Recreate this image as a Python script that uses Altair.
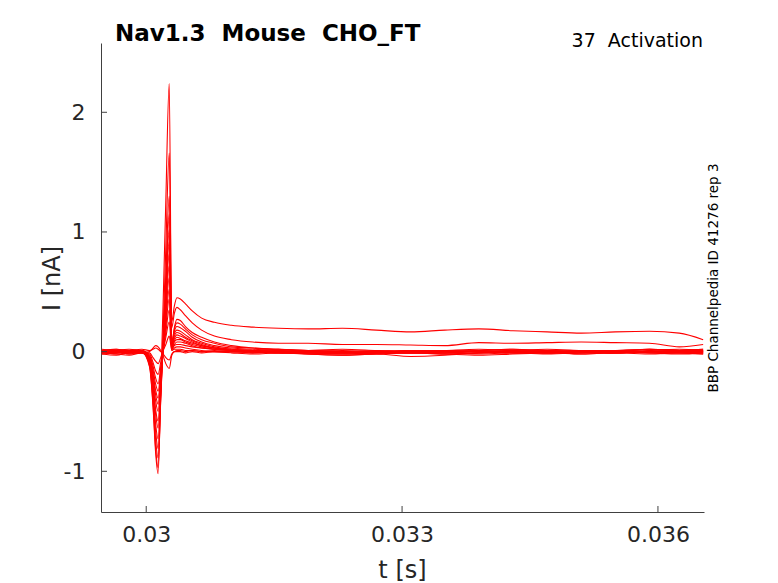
import altair as alt
import pandas as pd

# time grid of the sweeps [s]
T = [0.02948, 0.02965, 0.02980, 0.02995,
     0.03004, 0.03008, 0.03011, 0.03014,
     0.03017, 0.03020, 0.03023, 0.03027,
     0.03030, 0.03033, 0.03036, 0.03040, 0.03046, 0.03054, 0.03065, 0.03080, 0.03100,
     0.03125, 0.03155, 0.03190, 0.03230, 0.03270, 0.03310, 0.03350, 0.03390, 0.03430,
     0.03470, 0.03510, 0.03550, 0.03590, 0.03625, 0.03653]

# current traces [nA], one per sweep
TR_A = [0.01, 0.02, 0.00, 0.01,
        -0.12, -0.44, -0.80, -0.97,
        -0.39, 0.21, 0.87, 1.66,
        0.25, 0.38, 0.45, 0.44, 0.40, 0.34, 0.28, 0.245, 0.22,
        0.205, 0.195, 0.19, 0.195, 0.18, 0.165, 0.18, 0.19, 0.175, 0.165, 0.155, 0.165, 0.17, 0.155, 0.10]
TR_B = [-0.01, 0.01, 0.02, 0.00,
        -0.11, -0.40, -0.73, -0.89,
        -0.41, 0.10, 0.64, 1.30,
        0.20, 0.32, 0.37, 0.35, 0.30, 0.24, 0.18, 0.13, 0.10,
        0.08, 0.07, 0.07, 0.06, 0.06, 0.055, 0.05, 0.075, 0.07, 0.075, 0.08, 0.075, 0.07, 0.04, 0.06]
TR_C = [0.00, -0.01, 0.01, 0.00,
        -0.13, -0.46, -0.84, -1.02,
        -0.30, 0.45, 1.26, 2.24,
        0.05, 0.20, 0.27, 0.26, 0.21, 0.16, 0.12, 0.08, 0.05,
        0.03, 0.02, 0.01, 0.00, 0.01, -0.01, 0.00, 0.01, 0.02, 0.00, 0.01, 0.00, 0.02, 0.01, 0.00]
TR_D = [0.01, 0.00, -0.01, 0.01,
        -0.10, -0.36, -0.66, -0.81,
        -0.38, 0.07, 0.56, 1.15,
        0.08, 0.19, 0.24, 0.23, 0.19, 0.14, 0.10, 0.07, 0.04,
        0.03, 0.02, 0.00, -0.01, 0.00, 0.01, -0.02, -0.01, 0.00, 0.01, 0.00, -0.01, 0.01, 0.02, 0.01]
TR_E = [-0.02, -0.01, 0.00, -0.01,
        -0.09, -0.33, -0.60, -0.73,
        -0.35, 0.06, 0.50, 1.02,
        0.07, 0.17, 0.21, 0.20, 0.17, 0.12, 0.08, 0.05, 0.03,
        0.02, 0.01, -0.01, -0.02, -0.01, 0.00, -0.01, 0.01, 0.00, -0.01, 0.01, 0.00, 0.00, 0.01, 0.02]
TR_F = [0.02, 0.01, 0.01, 0.00,
        -0.08, -0.29, -0.52, -0.64,
        -0.30, 0.06, 0.45, 0.92,
        0.06, 0.15, 0.18, 0.17, 0.14, 0.10, 0.07, 0.04, 0.02,
        0.01, 0.00, -0.02, -0.03, -0.02, -0.04, -0.03, -0.01, 0.00, -0.01, 0.00, 0.01, 0.00, -0.01, 0.00]
TR_G = [0.00, -0.02, -0.01, 0.00,
        -0.07, -0.26, -0.48, -0.58,
        -0.27, 0.05, 0.40, 0.82,
        0.05, 0.13, 0.16, 0.15, 0.12, 0.09, 0.06, 0.03, 0.01,
        0.00, -0.01, 0.00, 0.01, 0.00, -0.01, 0.00, -0.02, -0.01, 0.00, -0.02, -0.01, 0.00, 0.00, -0.01]
TR_H = [-0.01, 0.00, 0.01, -0.01,
        -0.06, -0.23, -0.41, -0.50,
        -0.23, 0.05, 0.35, 0.72,
        0.04, 0.11, 0.14, 0.13, 0.11, 0.08, 0.05, 0.03, 0.02,
        0.01, 0.02, 0.01, 0.00, -0.01, 0.00, 0.01, 0.00, 0.01, 0.02, 0.01, 0.00, 0.01, 0.00, 0.01]
TR_I = [0.01, 0.02, 0.01, 0.01,
        -0.05, -0.20, -0.36, -0.44,
        -0.21, 0.04, 0.30, 0.62,
        0.03, 0.09, 0.12, 0.11, 0.09, 0.07, 0.05, 0.03, 0.01,
        0.00, -0.01, -0.02, -0.01, 0.00, -0.01, -0.02, -0.03, -0.02, -0.01, 0.00, -0.01, -0.02, -0.01, -0.02]
TR_J = [-0.02, -0.03, -0.01, -0.01,
        -0.05, -0.18, -0.32, -0.39,
        -0.19, 0.02, 0.25, 0.52,
        0.03, 0.08, 0.10, 0.10, 0.08, 0.06, 0.04, 0.02, 0.01,
        0.00, 0.01, 0.00, -0.01, 0.00, 0.01, 0.01, 0.00, -0.01, 0.00, 0.01, 0.01, 0.02, 0.01, 0.00]
TR_K = [0.00, 0.01, -0.02, 0.00,
        -0.04, -0.15, -0.27, -0.33,
        -0.16, 0.02, 0.21, 0.44,
        0.02, 0.06, 0.08, 0.08, 0.07, 0.05, 0.03, 0.02, 0.01,
        0.00, -0.01, -0.01, 0.00, -0.02, -0.01, 0.00, 0.00, -0.01, -0.02, -0.01, 0.00, -0.01, -0.02, -0.01]
TR_L = [0.01, -0.01, 0.00, 0.01,
        -0.03, -0.12, -0.22, -0.27,
        -0.13, 0.01, 0.16, 0.35,
        0.02, 0.05, 0.06, 0.06, 0.05, 0.04, 0.03, 0.02, 0.01,
        0.01, 0.00, 0.01, 0.02, 0.01, 0.00, 0.01, 0.02, 0.01, 0.00, 0.00, 0.01, 0.00, 0.01, 0.02]
TR_M = [-0.01, -0.02, -0.03, -0.01,
        -0.02, -0.09, -0.16, -0.19,
        -0.09, 0.01, 0.12, 0.25,
        0.01, 0.03, 0.04, 0.04, 0.03, 0.02, 0.01, 0.00, -0.01,
        -0.02, -0.01, -0.02, -0.03, -0.02, -0.01, -0.02, -0.01, 0.00, -0.01, -0.02, -0.01, 0.00, -0.01, -0.02]
TR_N = [0.00, 0.01, 0.00, -0.01,
        -0.01, -0.05, -0.08, -0.10,
        -0.05, 0.01, 0.06, 0.13,
        0.01, 0.02, 0.02, 0.02, 0.01, 0.01, 0.00, 0.00, 0.00,
        -0.01, 0.00, 0.01, 0.00, -0.01, 0.00, 0.01, 0.00, 0.00, 0.01, 0.00, -0.01, 0.00, 0.01, 0.00]
TR_O = [-0.01, 0.00, -0.02, -0.01,
        0.00, 0.03, 0.05, 0.04,
        0.01, -0.04, -0.10, -0.14,
        -0.03, 0.00, 0.00, 0.00, -0.01, 0.00, -0.01, 0.00, 0.00,
        -0.01, 0.00, -0.01, -0.02, -0.01, 0.00, -0.01, 0.00, 0.01, 0.00, -0.01, 0.00, -0.01, 0.00, -0.01]
TR_P = [0.01, 0.00, 0.01, 0.02,
        0.01, 0.02, 0.03, 0.02,
        0.00, -0.02, -0.05, -0.07,
        -0.02, 0.00, 0.01, 0.01, 0.00, 0.01, 0.00, 0.01, 0.00,
        0.00, 0.01, 0.00, -0.01, 0.00, 0.01, 0.00, 0.01, 0.02, 0.01, 0.00, 0.01, 0.02, 0.01, 0.01]

TRACES = {"A": TR_A, "B": TR_B, "C": TR_C, "D": TR_D, "E": TR_E, "F": TR_F,
          "G": TR_G, "H": TR_H, "I": TR_I, "J": TR_J, "K": TR_K, "L": TR_L,
          "M": TR_M, "N": TR_N, "O": TR_O, "P": TR_P}

X_DOMAIN = [0.02947, 0.03654]
Y_DOMAIN = [-1.34, 2.579]
XTICKS = [0.03, 0.033, 0.036]
YTICKS = [-1, 0, 1, 2]

TITLE = "Nav1.3\u00a0\u00a0Mouse\u00a0\u00a0CHO_FT"
RIGHT_TITLE = "37\u00a0\u00a0Activation"
SIDE_TEXT = "BBP Channelpedia ID 41276 rep 3"

rows = []
for name, vals in TRACES.items():
    for t, v in zip(T, vals):
        rows.append({"t": t, "I": v, "trace": name})
df = pd.DataFrame(rows)

W, H = 603, 469
FONT = "DejaVu Sans"
AX = "#404040"
TXT = "#262626"

xs = alt.Scale(domain=X_DOMAIN, nice=False, zero=False)
ys = alt.Scale(domain=Y_DOMAIN, nice=False, zero=False)

x_axis = alt.Axis(values=XTICKS, labelExpr="'' + datum.value", title="t [s]",
                  grid=False, ticks=False, tickSize=0, domainColor=AX, domainWidth=1,
                  labelFont=FONT, labelFontSize=22, labelColor=TXT, labelPadding=12,
                  labelFlush=False,
                  titleFont=FONT, titleFontSize=24, titleFontWeight="normal", titleColor=TXT,
                  titleX=301, titleY=65, titleBaseline="alphabetic", titleAlign="center")
y_axis = alt.Axis(values=YTICKS, labelExpr="'' + datum.value", title="I [nA]",
                  grid=False, ticks=False, tickSize=0, domainColor=AX, domainWidth=1,
                  labelFont=FONT, labelFontSize=22, labelColor=TXT, labelPadding=16,
                  labelFlush=False,
                  titleFont=FONT, titleFontSize=24, titleFontWeight="normal", titleColor=TXT,
                  titleX=-42, titleY=235, titleAngle=270, titleBaseline="alphabetic",
                  titleAlign="center")

lines = alt.Chart(df).mark_line(color="#ff0000", strokeWidth=1.1, interpolate="monotone",
                                clip=True).encode(
    x=alt.X("t:Q", scale=xs, axis=x_axis),
    y=alt.Y("I:Q", scale=ys, axis=y_axis),
    detail="trace:N",
)

xt = alt.Chart(pd.DataFrame({"t": XTICKS})).mark_rule(color=AX, strokeWidth=1).encode(
    x=alt.X("t:Q", scale=xs, axis=x_axis), y=alt.value(H), y2=alt.value(H - 6))
yt = alt.Chart(pd.DataFrame({"I": YTICKS})).mark_rule(color=AX, strokeWidth=1).encode(
    y=alt.Y("I:Q", scale=ys, axis=y_axis), x=alt.value(0), x2=alt.value(6))

title = alt.Chart(pd.DataFrame({"s": [TITLE]})).mark_text(
    font=FONT, fontSize=23, fontWeight="bold", color="#000000", align="left",
    baseline="alphabetic").encode(text="s:N", x=alt.value(14), y=alt.value(-2))
rtitle = alt.Chart(pd.DataFrame({"s": [RIGHT_TITLE]})).mark_text(
    font=FONT, fontSize=19, color="#000000", align="right",
    baseline="alphabetic").encode(text="s:N", x=alt.value(602), y=alt.value(4))
side = alt.Chart(pd.DataFrame({"s": [SIDE_TEXT]})).mark_text(
    font=FONT, fontSize=13.5, color="#000000", align="center", angle=270,
    baseline="middle").encode(text="s:N", x=alt.value(613), y=alt.value(235))

chart = alt.layer(lines, xt, yt, title, rtitle, side).properties(
    width=W, height=H,
    padding={"left": 93, "top": 35, "right": 60, "bottom": 75},
    autosize=alt.AutoSizeParams(type="none"),
    background="white",
).configure_view(stroke=None)

chart.save("out.html", embed_options={"renderer": "svg", "actions": False})
